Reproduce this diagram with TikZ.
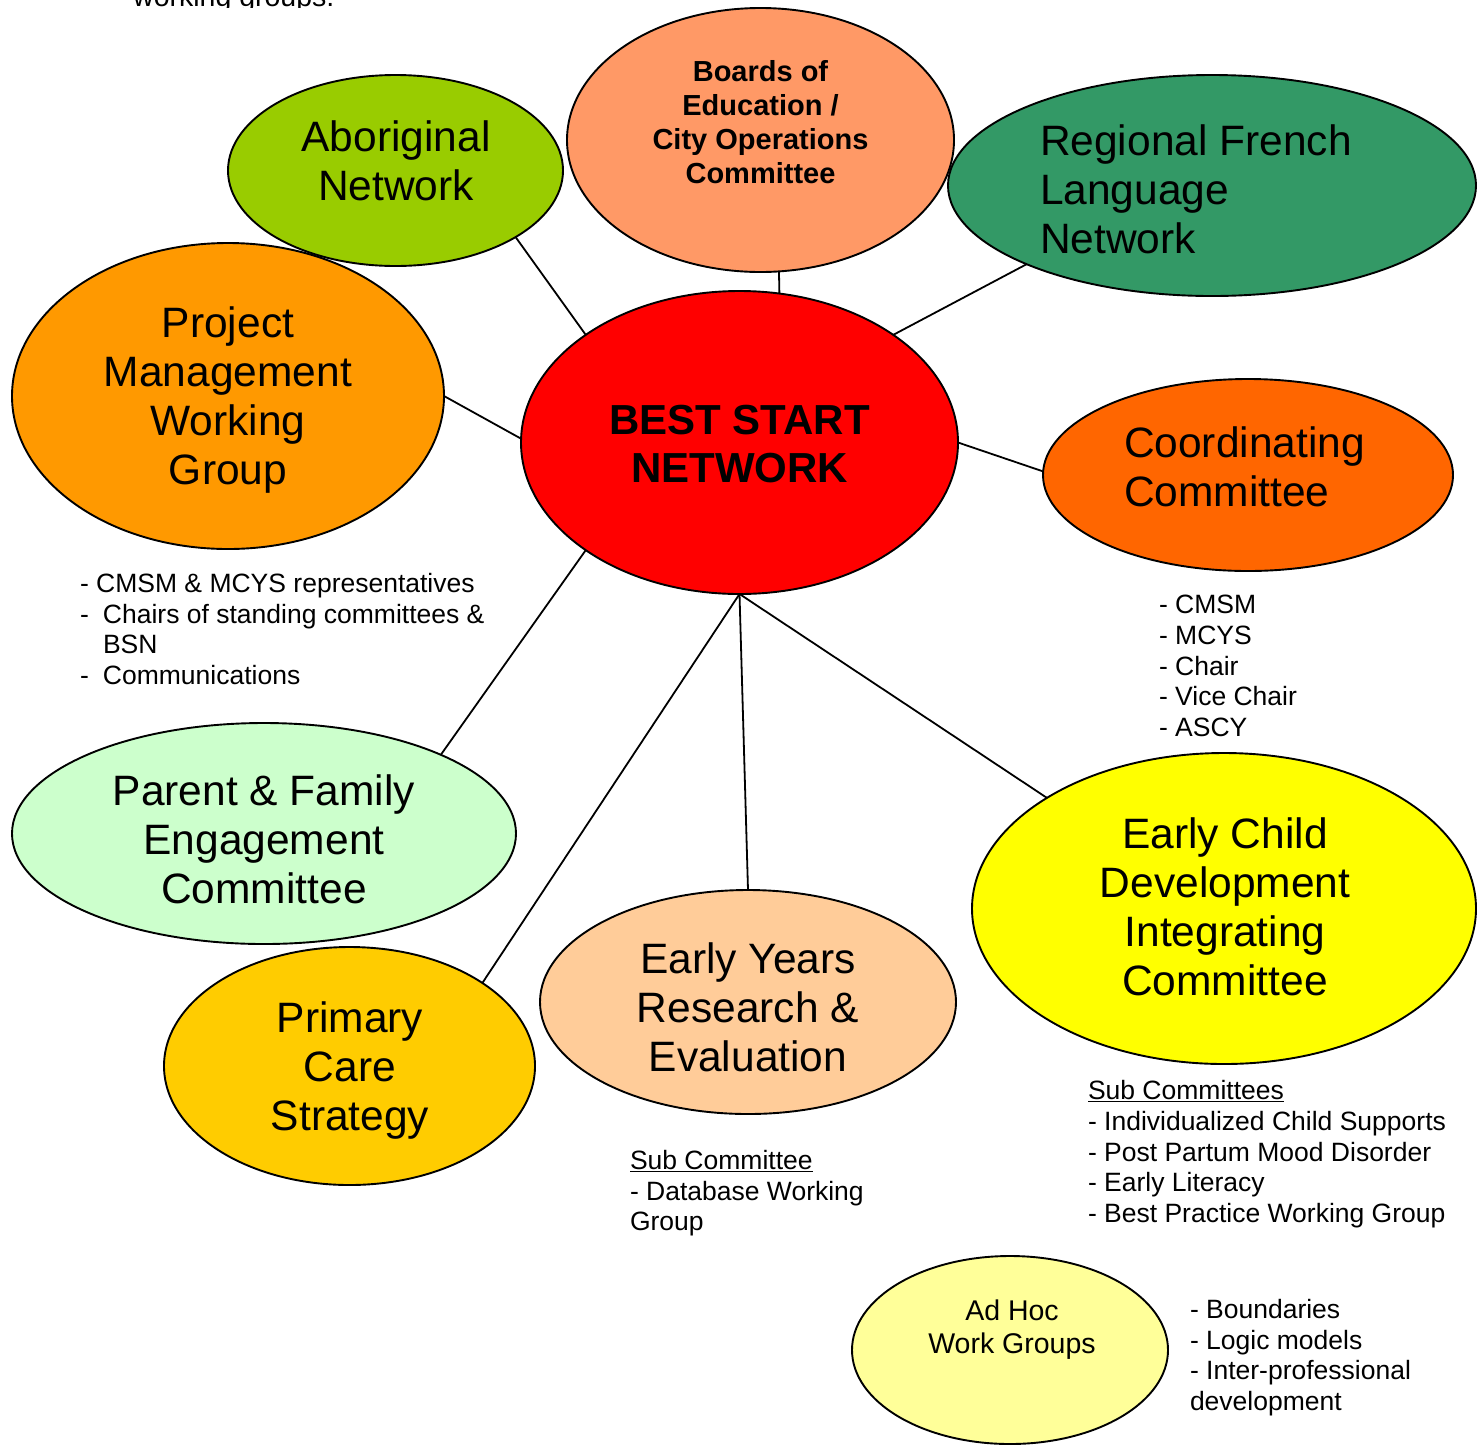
\documentclass[tikz,border=0pt]{standalone}
\usepackage{fontspec}
\setmainfont{Liberation Sans}
\usetikzlibrary{shapes.geometric}
\definecolor{cAbor}{HTML}{99CC00}
\definecolor{cBoard}{HTML}{FF9966}
\definecolor{cReg}{HTML}{339966}
\definecolor{cProj}{HTML}{FF9900}
\definecolor{cBest}{HTML}{FF0000}
\definecolor{cCoord}{HTML}{FF6600}
\definecolor{cParent}{HTML}{CCFFCC}
\definecolor{cPrim}{HTML}{FFCC00}
\definecolor{cEY}{HTML}{FFCC99}
\definecolor{cEC}{HTML}{FFFF00}
\definecolor{cAdHoc}{HTML}{FFFF99}
\newcommand\fsBig{\fontsize{42.5}{49}\selectfont}
\newcommand\fsBest{\fontsize{42}{48}\selectfont\bfseries}
\newcommand\fsBoard{\fontsize{29}{34}\selectfont\bfseries}
\newcommand\fsMed{\fontsize{28.5}{33}\selectfont}
\newcommand\fsSmall{\fontsize{26.5}{30.6}\selectfont}
\begin{document}
\begin{tikzpicture}[x=1pt,y=-1pt,
  ell/.style={ellipse, draw=black, line width=1.9pt, inner sep=0pt, outer sep=0pt},
  txt/.style={inner sep=0pt, outer sep=0pt, align=center, text=black},
  ltxt/.style={inner sep=0pt, outer sep=0pt, align=left, anchor=west, text=black},
  conn/.style={draw=black, line width=1.8pt}]
\useasboundingbox (0,0) rectangle (1483,1444);
\fill[white] (0,0) rectangle (1483,1444);
% cut-off text at the top
\begin{scope}
\clip (0,0) rectangle (1483,7);
\node[inner sep=0pt, anchor=base west, font=\fsMed] (topt) at (133,6.5) {working groups.};
\end{scope}
% ellipses
\node[ell, fill=cAbor, minimum width=335pt, minimum height=191pt] (abor) at (395.5,170.5) {};
\node[ell, fill=cBoard, minimum width=387pt, minimum height=264pt] (board) at (760.5,140) {};
\node[ell, fill=cReg, minimum width=528pt, minimum height=221pt] (reg) at (1212,185.5) {};
\node[ell, fill=cProj, minimum width=432pt, minimum height=306pt] (proj) at (228,396) {};
\node[ell, fill=cBest, minimum width=437pt, minimum height=303pt] (best) at (739.5,442.5) {};
\node[ell, fill=cCoord, minimum width=410pt, minimum height=192pt] (coord) at (1248,475) {};
\node[ell, fill=cParent, minimum width=504pt, minimum height=221pt] (parent) at (264,833.5) {};
\node[ell, fill=cPrim, minimum width=371pt, minimum height=238pt] (prim) at (349.5,1066) {};
\node[ell, fill=cEY, minimum width=416pt, minimum height=224pt] (ey) at (748,1002) {};
\node[ell, fill=cEC, minimum width=504pt, minimum height=311pt] (ec) at (1224,908.5) {};
\node[ell, fill=cAdHoc, minimum width=316pt, minimum height=188pt] (adhoc) at (1010,1350) {};
% ellipse texts
\node[txt, font=\fsBig] (abor-t) at (396,165.9) {\strut Aboriginal\\\strut Network};
\node[txt, font=\fsBoard] (board-t) at (760.5,125.9) {\strut Boards of\\\strut Education /\\\strut City Operations\\\strut Committee};
\node[ltxt, font=\fsBig] (reg-t) at (1040,194.4) {\strut Regional French\\\strut Language\\\strut Network};
\node[txt, font=\fsBig] (proj-t) at (228,400.9) {\strut Project\\\strut Management\\\strut Working\\\strut Group};
\node[txt, font=\fsBest] (best-t) at (739.5,448.4) {\strut BEST START\\\strut NETWORK};
\node[ltxt, font=\fsBig] (coord-t) at (1124,472.4) {\strut Coordinating\\\strut Committee};
\node[txt, font=\fsBig] (parent-t) at (264,844.4) {\strut Parent \& Family\\\strut Engagement\\\strut Committee};
\node[txt, font=\fsBig] (prim-t) at (350,1071.4) {\strut Primary\\\strut Care\\\strut Strategy};
\node[txt, font=\fsBig] (ey-t) at (748,1012.4) {\strut Early Years\\\strut Research \&\\\strut Evaluation};
\node[txt, font=\fsBig] (ec-t) at (1225,911.9) {\strut Early Child\\\strut Development\\\strut Integrating\\\strut Committee};
\node[txt, font=\fsMed] (adhoc-t) at (1012,1330.1) {\strut Ad Hoc\\\strut Work Groups};
% side lists
\node[ltxt, font=\fsSmall] (proj-l) at (80,632.4) {\strut - CMSM \& MCYS representatives\\\strut\makebox[23pt][l]{-}Chairs of standing committees \&\\\strut\hspace*{23pt}BSN\\\strut\makebox[23pt][l]{-}Communications};
\node[ltxt, font=\fsSmall] (coord-l) at (1159,668.9) {\strut - CMSM\\\strut - MCYS\\\strut - Chair\\\strut - Vice Chair\\\strut - ASCY};
\node[ltxt, font=\fsSmall] (ec-l) at (1088,1154.9) {\strut\underline{Sub Committees}\\\strut - Individualized Child Supports\\\strut - Post Partum Mood Disorder\\\strut - Early Literacy\\\strut - Best Practice Working Group};
\node[ltxt, font=\fsSmall] (ey-l) at (630,1193.9) {\strut\underline{Sub Committee}\\\strut - Database Working\\\strut Group};
\node[ltxt, font=\fsSmall] (adhoc-l) at (1190,1358.4) {\strut - Boundaries\\\strut - Logic models\\\strut - Inter-professional\\\strut development};
% connectors
\draw[conn] (abor.-29.8) -- (best.145.1);
\draw[conn] (board.-82.4) -- (best.75.7);
\draw[conn] (reg.-157) -- (best.35.3);
\draw[conn] (proj.-0.3) -- (best.179.3);
\draw[conn] (best.0.1) -- (coord.179.4);
\draw[conn] (parent.24) -- (best.-145.2);
\draw[conn] (prim.32.9) -- (best.south);
\draw[conn] (ey.north) -- (best.south);
\draw[conn] (ec.148.1) -- (best.south);
\end{tikzpicture}
\end{document}
